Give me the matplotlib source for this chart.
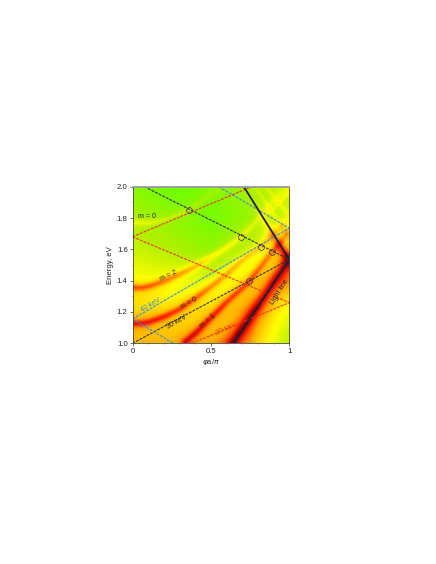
import numpy as np
import matplotlib
matplotlib.use('Agg')
import matplotlib.pyplot as plt
from matplotlib.colors import LinearSegmentedColormap
from matplotlib.ticker import MultipleLocator

plt.rcParams['font.family'] = ['Liberation Sans', 'DejaVu Sans']

# background level (rows = energy, cols = qa/pi)
bg_x = [0, 0.25, 0.5, 0.75, 1]
bg_e = [1.0, 1.2, 1.4, 1.6, 1.8, 2.0]
bg_levels = [[0.58, 0.58, 0.58, 0.56, 0.26],
             [0.52, 0.48, 0.50, 0.56, 0.38],
             [0.42, 0.37, 0.34, 0.45, 0.58],
             [0.30, 0.24, 0.14, 0.27, 0.45],
             [0.22, 0.13, 0.05, 0.16, 0.30],
             [0.10, 0.02, 0.08, 0.20, 0.30]]

# ridges of the map: x, energy, strength, width
m0_top = ([0, 0.1, 0.2, 0.3, 0.36, 0.46, 0.57], [1.77, 1.77, 1.79, 1.83, 1.85, 1.93, 2.0],
          [0.16, 0.16, 0.16, 0.18, 0.18, 0.13, 0.08], 0.012)
m2 = ([0, 0.05, 0.1, 0.2, 0.3, 0.4, 0.5, 0.6, 0.69, 0.8, 0.9, 1.0],
      [1.35, 1.35, 1.36, 1.395, 1.44, 1.49, 1.55, 1.61, 1.68, 1.79, 1.91, 2.0],
      [0.32, 0.32, 0.32, 0.32, 0.31, 0.29, 0.26, 0.22, 0.18, 0.12, 0.1, 0.08], 0.014)
m0_low = ([0, 0.05, 0.1, 0.2, 0.3, 0.4, 0.5, 0.6, 0.7, 0.82, 0.9, 1.0],
          [1.12, 1.12, 1.13, 1.165, 1.215, 1.285, 1.36, 1.44, 1.53, 1.62, 1.70, 1.80],
          [0.33, 0.33, 0.33, 0.33, 0.32, 0.31, 0.29, 0.27, 0.25, 0.22, 0.16, 0.12], 0.014)
m1 = ([0.33, 0.4, 0.5, 0.6, 0.7, 0.745, 0.82, 0.89, 0.95, 1.0],
      [1.0, 1.06, 1.16, 1.26, 1.35, 1.395, 1.49, 1.58, 1.65, 1.72],
      [0.34, 0.34, 0.32, 0.3, 0.3, 0.3, 0.28, 0.25, 0.22, 0.18], 0.014)
light_core = ([0.6, 0.64, 1.0], [0.94, 1.0, 1.53], [0.36, 0.36, 0.3], 0.02)
light_wide = ([0.6, 0.66, 1.0], [0.94, 1.0, 1.5], [0.12, 0.12, 0.12], 0.05)
light_down = ([1.0, 0.9, 0.8, 0.71], [1.53, 1.68, 1.86, 2.0], [0.36, 0.22, 0.08, 0.02], 0.018)
faint_a = ([0.78, 1.0], [2.0, 1.68], [0.1, 0.1], 0.007)
faint_b = ([0.85, 1.0], [2.0, 1.82], [0.1, 0.1], 0.007)
faint_c = ([0.86, 1.0], [1.82, 1.96], [0.09, 0.09], 0.007)
ridges = [m0_top, m2, m0_low, m1, light_core, light_wide, light_down, faint_a, faint_b, faint_c]

# dashed dispersion lines
line_30_up = ([0, 1], [1.0, 1.535])
line_30_down = ([0.076, 1], [2.0, 1.535])
line_40_up = ([0, 1], [1.155, 1.735])
line_40_down = ([0, 0.26], [1.155, 1.0])
line_40_top = ([0.55, 1], [2.0, 1.735])
line_20_up = ([0.38, 1], [1.0, 1.26])
line_20_down = ([0, 1], [1.68, 1.26])
line_20_top = ([0, 0.76], [1.68, 2.0])
light_line = ([0.645, 1, 0.71], [1.0, 1.535, 2.0])

circle_x = [0.36, 0.69, 0.817, 0.89, 0.745]
circle_e = [1.85, 1.68, 1.617, 1.58, 1.395]

cmap = LinearSegmentedColormap.from_list('map', [
    (0.0, '#66ff00'), (0.25, '#b4f000'), (0.42, '#ffff00'), (0.62, '#ffa800'),
    (0.82, '#ff1a00'), (1.0, '#8a0000')])


def ridge_field(X, Y, xs, ys, amps, width):
    xs, ys, amps = map(np.asarray, (xs, ys, amps))
    best = np.full(X.shape, np.inf)
    out = np.zeros(X.shape)
    for i in range(len(xs) - 1):
        dx, dy = xs[i + 1] - xs[i], ys[i + 1] - ys[i]
        t = np.clip(((X - xs[i]) * dx + (Y - ys[i]) * dy) / (dx * dx + dy * dy), 0, 1)
        d = np.hypot(X - xs[i] - t * dx, Y - ys[i] - t * dy)
        a = amps[i] + t * (amps[i + 1] - amps[i])
        near = d < best
        best[near] = d[near]
        out[near] = a[near]
    return out * (0.7 * np.exp(-best ** 2 / (2 * width ** 2))
                  + 0.3 * np.exp(-best ** 2 / (2 * (2.5 * width) ** 2)))


gx = np.linspace(0, 1, 78)
ge = np.linspace(1, 2, 78)
X, E = np.meshgrid(gx, ge)
levels = np.array(bg_levels)
rows = np.array([np.interp(gx, bg_x, r) for r in levels])
field = np.array([np.interp(ge, bg_e, rows[:, j]) for j in range(len(gx))]).T
for xs, ys, amps, width in ridges:
    field = field + ridge_field(X, E, xs, ys, amps, width)

fig = plt.figure(figsize=(4.36, 5.64), dpi=100)
ax = fig.add_axes([132.5 / 436, 1 - 343.3 / 564, 156.8 / 436, 156.6 / 564])
ax.imshow(field, extent=(0, 1, 1, 2), origin='lower', aspect='auto', cmap=cmap,
          vmin=0, vmax=1, interpolation='bilinear')

for (xs, ys), col in [(line_30_up, '#333333'), (line_30_down, '#333333'),
                      (line_40_up, '#3a8fd0'), (line_40_down, '#3a8fd0'), (line_40_top, '#3a8fd0'),
                      (line_20_up, '#ee3311'), (line_20_down, '#ee3311'), (line_20_top, '#ee3311')]:
    ax.plot(xs, ys, color=col, lw=0.8, ls=(0, (2.6, 1)))
ax.plot(light_line[0], light_line[1], color='#1f1f35', lw=1.3)
ax.plot(circle_x, circle_e, ls='none', marker='o', ms=4.2, mfc='none', mec='#444444', mew=0.6)

ax.set_xlim(0, 1)
ax.set_ylim(1, 2)
ax.set_xticks([0, 0.5, 1])
ax.set_xticklabels(['0', '0.5', '1'])
ax.set_yticks([1.0, 1.2, 1.4, 1.6, 1.8, 2.0])
ax.xaxis.set_minor_locator(MultipleLocator(0.1))
ax.yaxis.set_minor_locator(MultipleLocator(0.1))
ax.tick_params(labelsize=5.6, length=2, width=0.5, pad=1.5, color='#333333', labelcolor='#222222')
ax.tick_params(which='minor', length=1, width=0.4, color='#333333')
ax.set_xlabel('$\\varphi$a/$\\pi$', fontsize=5.4, labelpad=1.5, color='#222222')
ax.set_ylabel('Energy, eV', fontsize=5.6, labelpad=2, color='#222222')
for s in ax.spines.values():
    s.set_linewidth(0.6)
    s.set_color('#444444')
ax.spines['top'].set_linewidth(1.3)
ax.spines['top'].set_color('#999999')

txt = dict(fontsize=5, ha='center', va='center', color='#222222')
ax.text(0.095, 1.81, 'm = 0', **txt)
ax.text(0.23, 1.43, 'm = 2', rotation=25, **txt)
ax.text(0.36, 1.255, 'm = 0', rotation=30, **txt)
ax.text(0.48, 1.14, 'm = 1', rotation=40, **txt)
ax.text(0.28, 1.135, '30 keV', rotation=30, **txt)
ax.text(0.115, 1.24, '40 keV', rotation=30, **{**txt, 'color': '#3a8fd0'})
ax.text(0.6, 1.09, '20 keV', rotation=25, **{**txt, 'color': '#ee3311'})
ax.text(0.94, 1.33, 'Light line', rotation=58, **txt)

fig.savefig('out.png', dpi=100)
